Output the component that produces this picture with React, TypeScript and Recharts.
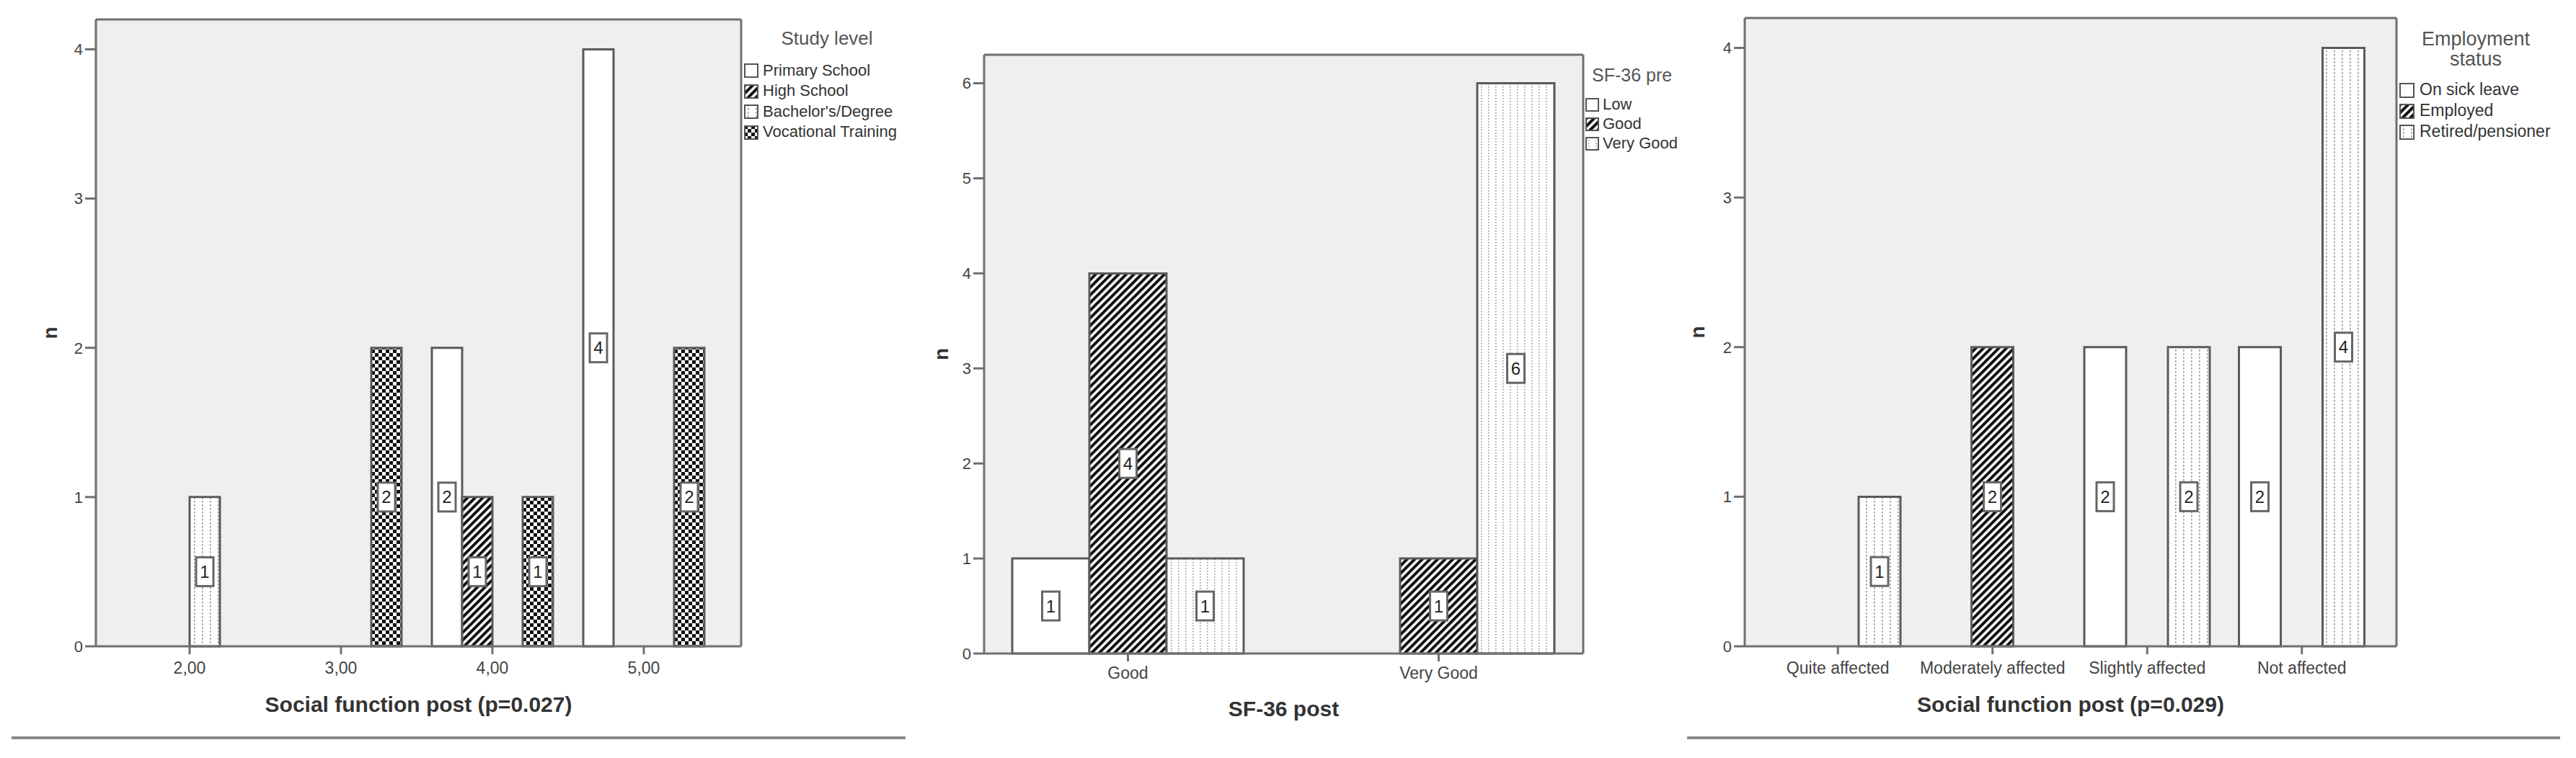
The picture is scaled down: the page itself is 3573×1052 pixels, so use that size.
import React from 'react';
import { BarChart, Bar, XAxis, YAxis, CartesianGrid, LabelList, Label } from 'recharts';

const FONT = '"Liberation Sans", Arial, sans-serif';

// Chart 1: study level by social function post
const studyCats = ['2,00', '3,00', '4,00', '5,00'];
const primarySchool = [null, null, 2, 4];
const highSchool = [null, null, 1, null];
const bachelors = [1, null, null, null];
const vocational = [null, 2, 1, 2];

// Chart 2: SF-36 pre by SF-36 post
const sfPostCats = ['Good', 'Very Good'];
const sfLow = [1, null];
const sfGood = [4, 1];
const sfVeryGood = [1, 6];

// Chart 3: employment status by social function post
const socialCats = ['Quite affected', 'Moderately affected', 'Slightly affected', 'Not affected'];
const sickLeave = [null, null, 2, 2];
const employed = [null, 2, null, null];
const retired = [1, null, 2, 4];

const studyData = studyCats.map((cat, i) => ({
  cat, primary: primarySchool[i], high: highSchool[i], bachelor: bachelors[i], vocational: vocational[i],
}));
const sfData = sfPostCats.map((cat, i) => ({ cat, low: sfLow[i], good: sfGood[i], veryGood: sfVeryGood[i] }));
const socialData = socialCats.map((cat, i) => ({ cat, sick: sickLeave[i], employed: employed[i], retired: retired[i] }));

const studySeries = [
  { key: 'primary', name: 'Primary School', fill: '#fff' },
  { key: 'high', name: 'High School', fill: 'url(#hatch)' },
  { key: 'bachelor', name: "Bachelor's/Degree", fill: 'url(#vdash)' },
  { key: 'vocational', name: 'Vocational Training', fill: 'url(#checker)' },
];
const sfSeries = [
  { key: 'low', name: 'Low', fill: '#fff' },
  { key: 'good', name: 'Good', fill: 'url(#hatch)' },
  { key: 'veryGood', name: 'Very Good', fill: 'url(#dots)' },
];
const socialSeries = [
  { key: 'sick', name: 'On sick leave', fill: '#fff' },
  { key: 'employed', name: 'Employed', fill: 'url(#hatch)' },
  { key: 'retired', name: 'Retired/pensioner', fill: 'url(#vdash)' },
];

const Patterns = () => (
  <svg width={0} height={0} style={{ position: 'absolute' }}>
    <defs>
      <pattern id="hatch" patternUnits="userSpaceOnUse" width={7.5} height={7.5} patternTransform="rotate(45)">
        <rect width={7.5} height={7.5} fill="#fff" />
        <rect width={4} height={7.5} fill="#111" />
      </pattern>
      <pattern id="checker" patternUnits="userSpaceOnUse" width={10} height={10}>
        <rect width={10} height={10} fill="#fff" />
        <rect width={5} height={5} fill="#111" />
        <rect x={5} y={5} width={5} height={5} fill="#111" />
      </pattern>
      <pattern id="vdash" patternUnits="userSpaceOnUse" width={11} height={5}>
        <rect width={11} height={5} fill="#fff" />
        <rect x={5} width={1.6} height={2.6} fill="#9a9a9a" />
      </pattern>
      <pattern id="dots" patternUnits="userSpaceOnUse" width={10} height={4}>
        <rect width={10} height={4} fill="#fff" />
        <rect x={4} width={1.6} height={1.6} fill="#9a9a9a" />
      </pattern>
    </defs>
  </svg>
);

const BoxLabel = (props: any) => {
  const { value } = props;
  if (value == null) return null;
  const vb = props.viewBox || props;
  const cx = vb.x + vb.width / 2;
  const cy = vb.y + vb.height / 2;
  return (
    <g>
      <rect x={cx - 12} y={cy - 20} width={24} height={40} fill="#fff" stroke="#666" strokeWidth={3} />
      <text x={cx} y={cy} textAnchor="middle" dominantBaseline="central" fontSize={24} fill="#222">{value}</text>
    </g>
  );
};

interface PanelProps {
  left: number;
  width: number;
  data: any[];
  series: { key: string; name: string; fill: string }[];
  yMax: number;
  yTicks: number[];
  margin: { top: number; right: number; bottom: number; left: number };
  padding: { left: number; right: number };
  barSize: number;
  tickMargin: number;
  xTitle: string;
  titleDy: number;
  nOffset: number;
}

const AXIS = '#707070';

// top and right edges of the plot frame
const topEdge = ({ offset }: any) => [offset.top];
const rightEdge = ({ offset }: any) => [offset.left + offset.width];

const Panel = (p: PanelProps) => (
  <div style={{ position: 'absolute', left: p.left, top: 0 }}>
    <BarChart width={p.width} height={1052} data={p.data} margin={p.margin} barSize={p.barSize} barGap={0}>
      <CartesianGrid fill="#efefef" fillOpacity={1} stroke={AXIS} strokeWidth={3}
        horizontalCoordinatesGenerator={topEdge} verticalCoordinatesGenerator={rightEdge} />
      <XAxis
        dataKey="cat"
        padding={p.padding}
        height={100}
        interval={0}
        tickSize={11}
        tickMargin={p.tickMargin}
        axisLine={{ stroke: AXIS, strokeWidth: 3 }}
        tickLine={{ stroke: AXIS, strokeWidth: 3 }}
        tick={{ fill: '#444', fontSize: 23 }}
      >
        <Label
          content={({ viewBox }: any) => (
            <text x={viewBox.x + viewBox.width / 2} y={viewBox.y + p.titleDy} textAnchor="middle"
              dominantBaseline="central" fontSize={30} fontWeight="bold" fill="#333">{p.xTitle}</text>
          )}
        />
      </XAxis>
      <YAxis
        type="number"
        domain={[0, p.yMax]}
        ticks={p.yTicks}
        width={60}
        tickSize={15}
        tickMargin={3}
        axisLine={{ stroke: AXIS, strokeWidth: 3 }}
        tickLine={{ stroke: AXIS, strokeWidth: 3 }}
        tick={{ fill: '#444', fontSize: 22 }}
      >
        <Label
          content={({ viewBox }: any) => {
            const cx = viewBox.x + viewBox.width - p.nOffset;
            const cy = viewBox.y + viewBox.height / 2;
            return (
              <text transform={`translate(${cx},${cy}) rotate(-90)`} textAnchor="middle"
                dominantBaseline="central" fontSize={28} fontWeight="bold" fill="#333">n</text>
            );
          }}
        />
      </YAxis>
      {p.series.map((s) => (
        <Bar key={s.key} dataKey={s.key} name={s.name} fill={s.fill} stroke="#5a5a5a" strokeWidth={3}
          isAnimationActive={false}>
          <LabelList dataKey={s.key} content={BoxLabel} />
        </Bar>
      ))}
    </BarChart>
  </div>
);

interface LegendProps {
  titleLines: string[];
  titleX: number;
  titleAlign: 'center' | 'left';
  titleTop: number;
  titleSize: number;
  titleLineGap: number;
  items: { name: string; fill: string }[];
  swatchX: number;
  textX: number;
  itemTop: number;
  itemGap: number;
  fontSize: number;
  swatch: number;
}

const LegendBlock = (l: LegendProps) => (
  <>
    {l.titleLines.map((t, i) => (
      <div key={t} style={{
        position: 'absolute', top: l.titleTop + i * l.titleLineGap - l.titleSize * 0.6,
        left: l.titleAlign === 'center' ? l.titleX - 200 : l.titleX,
        width: l.titleAlign === 'center' ? 400 : undefined,
        textAlign: l.titleAlign, fontSize: l.titleSize, color: '#555', lineHeight: `${l.titleSize * 1.2}px`,
        whiteSpace: 'nowrap',
      }}>{t}</div>
    ))}
    {l.items.map((it, i) => {
      const cy = l.itemTop + i * l.itemGap;
      return (
        <React.Fragment key={it.name}>
          <svg width={l.swatch} height={l.swatch} style={{ position: 'absolute', left: l.swatchX, top: cy - l.swatch / 2 }}>
            <rect x={1} y={1} width={l.swatch - 2} height={l.swatch - 2} fill={it.fill} stroke="#555" strokeWidth={2} />
          </svg>
          <div style={{
            position: 'absolute', left: l.textX, top: cy - l.fontSize * 0.6, fontSize: l.fontSize,
            lineHeight: `${l.fontSize * 1.2}px`, color: '#333', whiteSpace: 'nowrap',
          }}>{it.name}</div>
        </React.Fragment>
      );
    })}
  </>
);

export default function App() {
  return (
    <div style={{ position: 'absolute', left: 0, top: 0, width: 3573, height: 1052, background: '#fff', fontFamily: FONT, overflow: 'hidden' }}>
      <Patterns />
      <Panel left={0} width={1260} data={studyData} series={studySeries} yMax={4.2} yTicks={[0, 1, 2, 3, 4]}
        margin={{ top: 27, right: 232, bottom: 55, left: 73 }} padding={{ left: 25, right: 30 }} barSize={42}
        tickMargin={11} xTitle="Social function post (p=0.027)" titleDy={80} nOffset={64} />
      <Panel left={1240} width={1100} data={sfData} series={sfSeries} yMax={6.3} yTicks={[0, 1, 2, 3, 4, 5, 6]}
        margin={{ top: 76, right: 144, bottom: 45, left: 65 }} padding={{ left: -16, right: -15 }} barSize={107}
        tickMargin={8} xTitle="SF-36 post" titleDy={76} nOffset={60} />
      <Panel left={2330} width={1243} data={socialData} series={socialSeries} yMax={4.2} yTicks={[0, 1, 2, 3, 4]}
        margin={{ top: 25, right: 249, bottom: 55, left: 30 }} padding={{ left: 22, right: 24 }} barSize={58}
        tickMargin={11} xTitle="Social function post (p=0.029)" titleDy={80} nOffset={66} />

      <LegendBlock titleLines={['Study level']} titleX={1147} titleAlign="center" titleTop={54} titleSize={26}
        titleLineGap={0} items={studySeries} swatchX={1032} textX={1058} itemTop={98} itemGap={28.5} fontSize={22} swatch={20} />
      <LegendBlock titleLines={['SF-36 pre']} titleX={2208} titleAlign="left" titleTop={104} titleSize={25}
        titleLineGap={0} items={sfSeries} swatchX={2199} textX={2223} itemTop={145} itemGap={27} fontSize={22} swatch={19} />
      <LegendBlock titleLines={['Employment', 'status']} titleX={3434} titleAlign="center" titleTop={54} titleSize={27}
        titleLineGap={28.5} items={socialSeries} swatchX={3328} textX={3356} itemTop={125} itemGap={29} fontSize={23} swatch={21} />

      <div style={{ position: 'absolute', left: 16, top: 1022, width: 1240, height: 4, background: '#8a8a8a' }} />
      <div style={{ position: 'absolute', left: 2340, top: 1022, width: 1211, height: 4, background: '#8a8a8a' }} />
    </div>
  );
}
